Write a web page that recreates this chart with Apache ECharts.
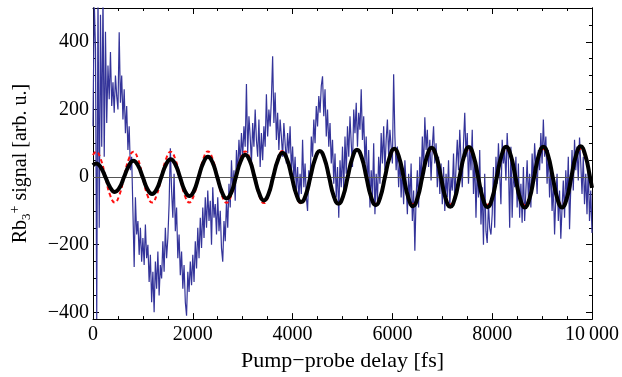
<!DOCTYPE html>
<html><head><meta charset="utf-8">
<script src="https://cdn.jsdelivr.net/npm/echarts@6/dist/echarts.min.js"></script>
<style>html,body{margin:0;padding:0;background:#fff}#c{width:622px;height:377px}</style>
</head><body><div id="c"></div>
<script>
// Measured Rb3+ signal, one value every 25 fs from 0 to 10000 fs
const signalStep = 25;
const signal = [
150,520,380,-420,560,-150,480,90,540,60,430,160,330,230,370,210,280,190,300,240,
200,428,220,300,170,260,130,210,80,150,20,60,-100,-266,-60,-170,-130,-230,-150,-250,
-180,-260,-140,-240,-200,-310,-230,-370,-280,-400,-250,-330,-220,-350,-260,-300,-190,-280,-150,-240,
-180,-80,85,-40,-120,10,-160,-90,-240,-170,-290,-220,-330,-260,-370,-410,-280,-340,-250,-320,
-230,-310,-190,-270,-150,-240,-120,-210,-90,-180,-60,-150,-40,-130,-70,-200,-30,-120,-80,-170,
-60,-160,-100,-210,-250,-130,-190,-70,-150,-20,-90,50,-40,20,-70,80,10,110,40,130,
60,150,90,275,70,180,120,40,160,90,200,110,60,170,30,130,50,150,90,245,
120,200,150,230,357,160,250,110,190,80,170,120,60,160,100,40,130,70,150,20,
90,-10,60,-40,30,-70,10,-50,110,-30,40,-60,-100,20,-20,120,60,170,100,210,
150,240,190,270,298,180,260,120,200,90,160,40,110,-20,70,-60,30,-120,50,-30,
90,-40,120,10,150,60,180,100,30,200,130,220,90,190,140,260,110,180,40,120,
-30,80,-90,20,-60,100,-110,10,-70,60,-20,130,40,150,20,110,170,60,140,90,
40,304,120,20,90,-30,60,-60,30,-80,50,-20,-110,10,-70,40,-130,-40,-218,-60,
20,-90,60,-20,120,20,177,80,140,30,110,-10,90,150,40,100,-30,60,-50,40,
-80,30,-100,10,-60,50,-90,0,-40,70,-70,30,110,20,140,50,-30,100,190,60,
130,-20,90,20,140,-50,60,-120,30,-60,80,-140,-30,-200,10,-160,-195,-80,-150,-170,
-110,30,-150,60,-20,100,10,-80,110,40,80,-10,130,50,-150,90,-120,20,-30,60,
-90,40,-120,-20,-135,30,-130,-40,50,-60,10,-90,70,-20,100,30,-50,80,20,130,
40,170,60,120,-20,80,-60,30,-100,-20,-170,-60,10,-130,-40,-182,-90,-10,-120,20,
-70,60,-154,-30,80,-40,110,20,90,-10,117,40,-50,60,-80,10,-110,30,-130,-40,
-165
];

// Fitted curves, read at peaks, troughs, zero crossings and midpoints
const fitDelays = [0,
62,155,249,342,436,529,622,716,
809,902,996,1089,1183,1276,1369,1463,
1556,1649,1743,1836,1930,2023,2116,2210,
2303,2396,2490,2583,2677,2770,2863,2957,
3050,3143,3237,3330,3424,3517,3610,3704,
3797,3890,3984,4077,4171,4264,4357,4451,
4544,4637,4731,4824,4918,5011,5104,5198,
5291,5384,5478,5571,5665,5758,5851,5945,
6038,6131,6225,6318,6412,6505,6598,6692,
6785,6878,6972,7065,7159,7252,7345,7439,
7532,7625,7719,7812,7906,7999,8092,8186,
8279,8372,8466,8559,8653,8746,8839,8933,
9026,9119,9213,9306,9400,9493,9586,9680,
9773,9866,9960,10000];
const fitBlack = [35,
40,29,0,-30,-44,-32,0,33,
48,34,0,-35,-50,-36,0,37,
53,38,0,-39,-56,-41,0,42,
60,43,0,-44,-63,-46,0,46,
66,48,0,-48,-69,-50,0,50,
72,52,0,-52,-74,-53,0,54,
77,55,0,-56,-79,-57,0,57,
81,58,0,-58,-83,-59,0,59,
84,60,0,-60,-86,-61,0,61,
87,62,0,-62,-88,-63,0,63,
89,63,0,-63,-89,-63,0,63,
90,64,0,-64,-90,-64,0,64,
90,64,0,-64,-90,-64,0,64,
91,64,0,-32];
const fitRed = [65,
75,53,0,-53,-75,-53,0,53,
75,53,0,-53,-75,-53,0,53,
75,53,0,-53,-75,-53,0,53,
76,54,0,-54,-76,-54,0,54,
76,54,0,-54,-77,-54,0,55,
77,55,0,-55,-78,-55,0,55,
78,55,0,-55,-78,-56,0,56,
79,56,0,-56,-79,-56,0,56,
80,57,0,-57,-80,-57,0,57,
81,57,0,-57,-81,-58,0,58,
82,58,0,-58,-82,-58,0,58,
83,59,0,-59,-83,-59,0,59,
83,59,0,-59,-83,-59,0,59,
84,59,0,-28];

const xRange = [0, 10000];
const yRange = [-420, 500];
const yMajor = [-400, -200, 0, 200, 400];
const yMinor = [-400,-350,-300,-250,-200,-150,-100,-50,0,50,100,150,200,250,300,350,400,450,500];

const serif = "'Liberation Serif','DejaVu Serif',serif";
const signalData = signal.map((v, i) => [i * signalStep, v]);
const blackData = fitDelays.map((x, i) => [x, fitBlack[i]]);
const redData = fitDelays.map((x, i) => [x, fitRed[i]]);

const fmtY = v => v < 0 ? '\u2212' + Math.abs(v) : String(v);
const fmtX = v => v === 10000 ? '10\u2009000' : String(v);
const line = { show: true, onZero: false, lineStyle: { color: '#000', width: 1 } };

function xAx(pos, labels) {
  return {
    type: 'value', position: pos, min: xRange[0], max: xRange[1], interval: 2000,
    axisLine: line,
    axisTick: { show: true, inside: true, length: 6, lineStyle: { color: '#000' } },
    minorTick: { show: true, splitNumber: 4, length: 3, lineStyle: { color: '#000' } },
    splitLine: { show: false }, minorSplitLine: { show: false },
    axisLabel: { show: labels, formatter: fmtX, color: '#000', fontFamily: serif, fontSize: 20, margin: 6 },
    name: labels ? 'Pump\u2212probe delay [fs]' : '', nameLocation: 'middle', nameGap: 28,
    nameTextStyle: { color: '#000', fontFamily: serif, fontSize: 22 }
  };
}
function yAx(pos, major, labels) {
  const vals = major ? yMajor : yMinor;
  return {
    type: 'value', position: pos, min: yRange[0], max: yRange[1],
    axisLine: line,
    axisTick: { show: true, inside: true, length: major ? 6 : 3, customValues: vals, lineStyle: { color: '#000' } },
    splitLine: { show: false },
    axisLabel: { show: labels, customValues: yMajor, formatter: fmtY, color: '#000', fontFamily: serif, fontSize: 20, margin: 4 },
    name: labels ? '{a|Rb}{b|3}{c|+}{a| signal [arb. u.]}' : '',
    nameLocation: 'middle', nameRotate: 90, nameGap: 60,
    nameTextStyle: {
      color: '#000', fontFamily: serif, fontSize: 20,
      rich: {
        a: { fontFamily: serif, fontSize: 20, lineHeight: 25, color: '#000', verticalAlign: 'middle' },
        b: { fontFamily: serif, fontSize: 13, lineHeight: 13, color: '#000', verticalAlign: 'bottom' },
        c: { fontFamily: serif, fontSize: 14, lineHeight: 14, color: '#000', verticalAlign: 'top' }
      }
    }
  };
}

const chart = echarts.init(document.getElementById('c'), null, { renderer: 'canvas' });
chart.setOption({
  animation: false,
  backgroundColor: '#fff',
  grid: { left: 87, right: 30, top: 8, bottom: 57, containLabel: false },
  xAxis: [xAx('bottom', true), xAx('top', false)],
  yAxis: [yAx('left', true, true), yAx('left', false, false), yAx('right', true, false), yAx('right', false, false)],
  series: [
    { type: 'line', data: signalData, showSymbol: false, lineStyle: { color: '#34349a', width: 1.2 }, clip: true, z: 2 },
    { type: 'line', data: [], markLine: { silent: true, symbol: 'none', label: { show: false },
        lineStyle: { color: '#555', width: 1, type: 'solid' }, data: [{ yAxis: 0 }] }, z: 3 },
    { type: 'line', data: redData, smooth: 0.5, showSymbol: false, lineStyle: { color: '#ff1010', width: 2, type: [4, 3] }, clip: true, z: 4 },
    { type: 'line', data: blackData, smooth: 0.5, showSymbol: false, lineStyle: { color: '#000', width: 4 }, clip: true, z: 5 }
  ]
});
</script>
</body></html>
